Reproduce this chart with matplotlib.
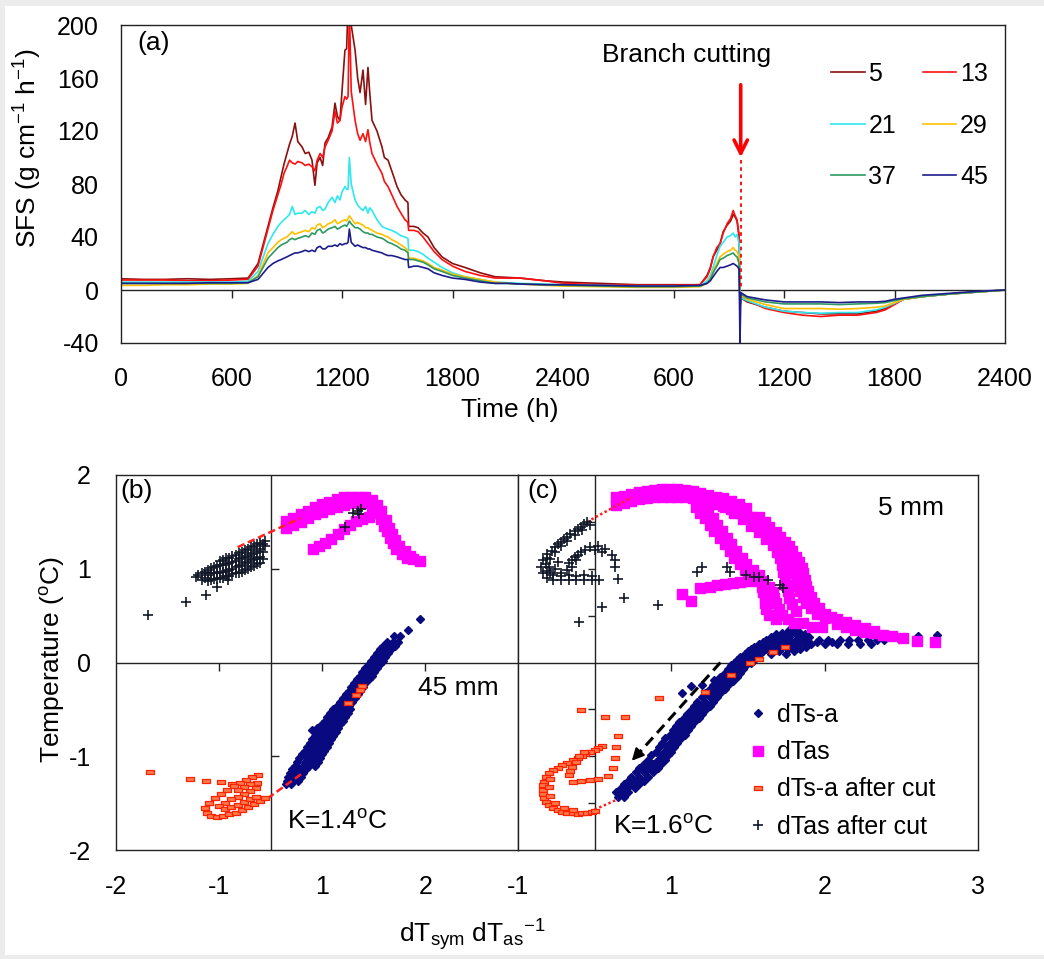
import matplotlib
matplotlib.use("Agg")
import numpy as np
import matplotlib.pyplot as plt
from matplotlib.lines import Line2D
from matplotlib.patches import Rectangle
from matplotlib.markers import TICKDOWN, TICKLEFT, TICKRIGHT

plt.rcParams["font.family"] = ["Liberation Sans", "DejaVu Sans"]
plt.rcParams["mathtext.fontset"] = "custom"
plt.rcParams["mathtext.rm"] = "Liberation Sans"
plt.rcParams["mathtext.it"] = "Liberation Sans:italic"
plt.rcParams["mathtext.default"] = "regular"

W, H = 1044, 959

# ---------------------------------------------------------------------------
# (a) sap flux density at six depths, two measurement periods glued end to end
# ---------------------------------------------------------------------------
time_h = [0, 120, 240, 360, 480, 600, 690,
          744, 798, 825, 852, 870, 885, 901, 915, 930, 945,
          960, 983, 1000, 1020, 1037, 1053, 1065, 1081, 1095, 1108,
          1125, 1146, 1162, 1175, 1189, 1200, 1216, 1225, 1233, 1240,
          1250, 1271, 1285, 1298, 1314, 1328, 1341, 1350, 1363, 1390,
          1417, 1430, 1450, 1470, 1499, 1520, 1542, 1558, 1562, 1590,
          1613, 1640, 1667, 1700, 1743, 1800, 1868, 1950, 2031, 2100,
          2167, 2300, 2400, 2600, 2800, 3000, 3144, 3182, 3200, 3215,
          3235, 3253, 3270, 3291, 3310, 3324, 3335, 3345, 3356, 3361,
          3366, 3400, 3500, 3600, 3700, 3800, 3900, 4000, 4100, 4150,
          4200, 4250, 4350, 4500, 4650, 4800]

sfs_5 = [8.5, 8, 8, 8.5, 8, 8.5, 9,
         20, 48, 62, 75, 86, 95, 103, 110, 116, 126,
         112, 108, 103, 104, 98, 79, 96, 100, 94, 111,
         115, 123, 141, 131, 128, 150, 181, 182, 215, 215,
         200, 181, 160, 149, 166, 140, 168, 150, 128, 120,
         108, 100, 98, 90, 78, 72, 68, 66, 48, 48,
         47, 43, 40, 32, 25, 20, 17, 13, 10, 9.5,
         9, 7, 6, 5, 4, 4, 4, 11, 17, 25,
         30, 35, 44, 49, 52, 57, 55, 52, 40, -14,
         -6, -9, -13, -16, -17, -18, -18, -18, -16, -14,
         -10, -7, -5, -3, -1.5, 0]
sfs_13 = [7.5, 7.5, 7.5, 7, 7, 7.5, 8,
          18, 46, 60, 72, 80, 88, 93, 98, 96, 95,
          97, 96, 94, 95, 93, 90, 98, 103, 100, 108,
          113, 120, 135, 126, 128, 138, 146, 144, 146, 215,
          150, 128, 118, 113, 118, 112, 121, 112, 103, 95,
          88, 82, 78, 72, 63, 58, 53, 51, 45, 45,
          44, 40, 35, 29, 23, 18, 14, 11, 9, 9,
          9, 7, 5, 4, 3.5, 3.5, 4, 10, 16, 25,
          32, 35, 43, 50, 54, 60, 56, 53, 42, -12,
          -4, -8, -14, -17, -19, -20, -19, -19, -17, -15,
          -11, -7, -5, -3, -1.5, 0]
sfs_21 = [6, 6, 6, 6, 6, 6, 6.5,
          14, 35, 42, 48, 51, 53, 55, 57, 63, 57,
          58, 58, 60, 57, 59, 58, 62, 63, 60, 61,
          66, 70, 66, 71, 68, 74, 78, 76, 76, 100,
          80, 68, 64, 62, 60, 63, 58, 62, 60, 53,
          48, 47, 46, 45, 43, 41, 40, 39, 30, 30,
          29, 27, 24, 21, 17, 13, 10, 8, 6, 5.5,
          5, 4.5, 4, 3.5, 3, 3, 3, 7, 11, 17,
          26, 33, 36, 40, 41, 43, 40, 42, 35, -8,
          -6, -8, -13, -16, -17, -17.5, -17, -17, -15, -13,
          -10, -7, -5, -3, -1.5, 0]
sfs_29 = [3.5, 3.5, 4, 4, 4.5, 4.5, 5,
          11, 28, 32, 36, 38, 39, 40, 42, 44, 42,
          43, 44, 45, 44, 47, 46, 49, 50, 47, 48,
          50, 51, 53, 50, 51, 52, 53, 52, 54, 56,
          54, 50, 51, 50, 49, 47, 47, 46, 45, 43,
          42, 41, 40, 38, 36, 34, 32, 30, 24, 24,
          23, 22, 20, 17, 15, 12, 10, 8, 6, 5,
          4.5, 3.5, 3, 2.5, 2, 2, 2.5, 5, 9, 14,
          20, 25, 27, 29, 30, 32, 30, 29, 25, -8,
          -4, -7, -11, -14, -14, -14, -14.5, -14, -13, -12,
          -9.5, -7, -5, -3, -1.5, 0]
sfs_37 = [5, 5, 5, 5, 5, 5, 5.5,
          10, 24, 28, 32, 34, 35, 36, 38, 39, 38,
          39, 40, 41, 40, 43, 42, 45, 46, 43, 44,
          46, 47, 48, 46, 47, 48, 49, 48, 50, 52,
          50, 47, 47, 46, 44, 43, 43, 42, 42, 40,
          39, 38, 36, 35, 33, 31, 30, 28, 23, 23,
          22, 21, 19, 16, 14, 11, 9, 7, 5, 5,
          4.5, 4, 3.5, 3, 2.5, 2.5, 3, 5, 8, 13,
          18, 23, 24, 26, 27, 28, 26, 25, 20, -10,
          -3, -6, -9, -10.5, -10.5, -10.5, -11, -10.5, -10, -9.5,
          -8, -6.5, -5, -3, -1.5, 0]
sfs_45 = [5, 5, 5, 5, 5.5, 5.5, 5.5,
          8, 17, 20, 22, 23, 24, 25, 26, 27, 28,
          28, 29, 30, 29, 30, 29, 32, 33, 31, 31,
          33, 33, 34, 33, 35, 34, 35, 35, 36, 46,
          36, 33, 34, 33, 32, 32, 31, 31, 30, 29,
          28, 27, 26, 26, 25, 24, 23, 23, 17, 18,
          18, 17, 16, 13, 11, 9, 8, 6, 5, 5,
          4.5, 4, 4, 3.5, 3, 3, 3.5, 5, 7, 10,
          14, 17, 17, 18, 19, 20, 19, 18, 16, -40,
          -2, -5, -7.5, -9, -9, -9, -9.5, -9, -9, -8.5,
          -7, -6, -4, -2.5, -1, 0]

depths = ["5", "13", "21", "29", "37", "45"]
depth_colors = ["#8B1010", "#FF1010", "#2EE8F0", "#FFC000", "#2E9960", "#1C1C8C"]

time_ticks = [0, 600, 1200, 1800, 2400, 3000, 3600, 4200, 4800]
time_labels = ["0", "600", "1200", "1800", "2400", "600", "1200", "1800", "2400"]
cut_time = 3365
cut_arrow = [157, 98]      # SFS values spanned by the red arrow

# ---------------------------------------------------------------------------
# (b) 45 mm and (c) 5 mm: temperature differences vs dTsym/dTas
# dense clouds are stored as rows (y, [x...]) or columns (x, [y...])
# ---------------------------------------------------------------------------
b_dtsa_rows = [
    (-1.30, [0.15, 0.20]), (-1.26, [0.16, 0.22, 0.27]),
    (-1.22, [0.17, 0.24, 0.29]), (-1.18, [0.19, 0.26, 0.31]),
    (-1.14, [0.21, 0.28, 0.34]), (-1.10, [0.24, 0.31, 0.37, 0.43]),
    (-1.06, [0.26, 0.33, 0.40, 0.46]), (-1.02, [0.28, 0.35, 0.42, 0.48]),
    (-0.98, [0.30, 0.37, 0.44, 0.50]), (-0.94, [0.33, 0.40, 0.46, 0.52]),
    (-0.90, [0.35, 0.42, 0.49, 0.55]), (-0.86, [0.38, 0.45, 0.51, 0.57]),
    (-0.82, [0.40, 0.47, 0.54, 0.59]), (-0.78, [0.43, 0.50, 0.56, 0.61]),
    (-0.74, [0.46, 0.52, 0.58, 0.63]), (-0.70, [0.48, 0.55, 0.60, 0.65]),
    (-0.66, [0.50, 0.57, 0.63, 0.67]), (-0.62, [0.53, 0.60, 0.65, 0.70]),
    (-0.58, [0.55, 0.62, 0.68, 0.72]), (-0.54, [0.58, 0.65, 0.70, 0.75]),
    (-0.50, [0.61, 0.67, 0.73, 0.77]), (-0.46, [0.64, 0.70, 0.76]),
    (-0.42, [0.67, 0.73, 0.79]), (-0.38, [0.70, 0.76, 0.82]),
    (-0.34, [0.73, 0.79, 0.85]), (-0.30, [0.76, 0.82, 0.87]),
    (-0.26, [0.78, 0.84, 0.90]), (-0.22, [0.81, 0.87, 0.92]),
    (-0.18, [0.84, 0.90, 0.95]), (-0.14, [0.87, 0.92, 0.98]),
    (-0.10, [0.89, 0.95, 1.00]), (-0.06, [0.92, 0.98, 1.03]),
    (-0.02, [0.95, 1.01, 1.06]), (0.02, [0.97, 1.03, 1.09]),
    (0.06, [1.00, 1.06, 1.11]), (0.10, [1.03, 1.09, 1.14]),
    (0.14, [1.06, 1.12, 1.17]), (0.18, [1.09, 1.15, 1.21]),
    (0.22, [1.13, 1.19, 1.24]), (0.28, [1.20, 1.26]),
    (0.35, [1.33]), (0.46, [1.45]),
    (-0.72, [0.40]), (-0.70, [0.45]),
]
b_dtas = [
    (0.15, 1.44), (0.15, 1.51), (0.22, 1.47), (0.22, 1.54), (0.29, 1.50), (0.29, 1.58),
    (0.36, 1.54), (0.36, 1.62), (0.43, 1.58), (0.43, 1.66), (0.50, 1.61), (0.50, 1.69),
    (0.57, 1.64), (0.57, 1.71), (0.64, 1.66), (0.64, 1.74), (0.71, 1.68), (0.71, 1.76),
    (0.78, 1.70), (0.78, 1.77), (0.85, 1.71), (0.85, 1.77), (0.92, 1.70), (0.92, 1.76),
    (0.98, 1.66), (0.98, 1.73), (1.03, 1.60), (1.03, 1.68), (1.07, 1.53), (1.07, 1.62),
    (1.10, 1.46), (1.12, 1.52), (1.13, 1.40), (1.15, 1.44), (1.16, 1.33), (1.18, 1.37),
    (1.19, 1.27), (1.21, 1.31), (1.22, 1.21), (1.25, 1.24), (1.27, 1.16), (1.30, 1.19),
    (1.32, 1.12), (1.35, 1.14), (1.38, 1.10), (1.45, 1.08),
    (0.41, 1.21), (0.47, 1.24), (0.53, 1.28), (0.59, 1.32), (0.65, 1.37),
    (0.71, 1.42), (0.77, 1.47), (0.83, 1.51), (0.89, 1.53), (0.95, 1.55),
]
b_dtsa_cut = [
    (-1.17, -1.17), (-0.78, -1.24), (-0.63, -1.26), (-0.48, -1.27), (-0.37, -1.30),
    (-0.12, -1.20), (-0.18, -1.22), (-0.24, -1.25), (-0.30, -1.28),
    (-0.36, -1.32), (-0.42, -1.36), (-0.48, -1.40), (-0.54, -1.45), (-0.60, -1.50),
    (-0.64, -1.55), (-0.62, -1.60), (-0.58, -1.64),
    (-0.52, -1.65), (-0.46, -1.64), (-0.40, -1.62), (-0.34, -1.60), (-0.28, -1.57),
    (-0.22, -1.54), (-0.16, -1.51), (-0.10, -1.48), (-0.05, -1.45),
    (-0.13, -1.28), (-0.14, -1.34), (-0.20, -1.37), (-0.26, -1.40), (-0.32, -1.43),
    (-0.38, -1.46), (-0.44, -1.50), (-0.50, -1.53), (-0.44, -1.56), (-0.38, -1.54),
    (-0.32, -1.52), (-0.26, -1.49), (-0.20, -1.46), (-0.14, -1.43),
    (-0.20, -1.30), (-0.26, -1.33), (-0.32, -1.36),
    (0.75, -0.43), (0.83, -0.35), (0.87, -0.29), (0.89, -0.25),
]
b_dtas_cut_cols = [
    (-0.72, [0.91]), (-0.70, [0.93]), (-0.67, [0.88, 0.95]), (-0.64, [0.90, 0.97]),
    (-0.61, [0.87, 0.93, 0.99]), (-0.58, [0.88, 0.95, 1.01]),
    (-0.55, [0.89, 0.96, 1.02]), (-0.52, [0.89, 0.96, 1.03]),
    (-0.49, [0.90, 0.97, 1.04, 1.08]), (-0.46, [0.90, 0.97, 1.04, 1.09]),
    (-0.43, [0.92, 0.98, 1.05, 1.11]), (-0.40, [0.92, 0.99, 1.06, 1.12]),
    (-0.37, [0.94, 1.00, 1.07, 1.14]), (-0.34, [0.95, 1.02, 1.08, 1.15]),
    (-0.31, [0.96, 1.03, 1.10, 1.17]), (-0.28, [0.97, 1.04, 1.11, 1.18]),
    (-0.25, [0.99, 1.06, 1.13, 1.20]), (-0.22, [1.00, 1.07, 1.14, 1.21]),
    (-0.19, [1.02, 1.09, 1.16, 1.23]), (-0.16, [1.03, 1.10, 1.17, 1.24]),
    (-0.13, [1.05, 1.12, 1.19, 1.26]), (-0.10, [1.06, 1.13, 1.21, 1.28]),
    (-0.07, [1.10, 1.18, 1.26]), (-0.05, [1.24, 1.30]),
    (-1.19, [0.51]), (-0.82, [0.65]), (-0.63, [0.72]), (-0.52, [0.81]), (-0.41, [0.88]),
    (0.72, [1.45]), (0.80, [1.60]), (0.85, [1.62]), (0.88, [1.64]), (0.86, [1.58]),
]
b_join_top = [(-0.32, 1.23), (0.29, 1.54)]
b_join_bottom = [(-0.03, -1.45), (0.31, -1.18)]

c_dtsa_rows = [
    (-1.43, [0.15, 0.19]), (-1.38, [0.14, 0.18, 0.22]), (-1.34, [0.17, 0.21, 0.26]),
    (-1.30, [0.19, 0.24, 0.29]), (-1.26, [0.22, 0.27, 0.32]),
    (-1.22, [0.24, 0.29, 0.35]), (-1.17, [0.27, 0.32, 0.38]),
    (-1.13, [0.29, 0.35, 0.41]), (-1.08, [0.32, 0.38, 0.43]),
    (-1.04, [0.35, 0.41, 0.46]), (-0.99, [0.37, 0.43, 0.48]),
    (-0.95, [0.40, 0.45, 0.50]), (-0.90, [0.42, 0.47, 0.52]),
    (-0.86, [0.44, 0.49, 0.54]), (-0.81, [0.46, 0.51, 0.56]),
    (-0.77, [0.49, 0.54, 0.59]), (-0.72, [0.51, 0.56, 0.61]),
    (-0.68, [0.53, 0.58, 0.63]), (-0.63, [0.55, 0.60, 0.65]),
    (-0.59, [0.58, 0.63, 0.68]), (-0.55, [0.60, 0.65, 0.70]),
    (-0.51, [0.63, 0.68, 0.72]), (-0.46, [0.65, 0.70, 0.75]),
    (-0.42, [0.67, 0.72, 0.77]), (-0.37, [0.70, 0.75, 0.80]),
    (-0.33, [0.72, 0.77, 0.82]), (-0.28, [0.75, 0.80, 0.85]),
    (-0.24, [0.77, 0.82, 0.87]), (-0.20, [0.80, 0.85, 0.90]),
    (-0.15, [0.82, 0.87, 0.93]), (-0.11, [0.85, 0.90, 0.95]),
    (-0.07, [0.87, 0.92, 0.97]), (-0.03, [0.89, 0.94, 0.99]),
    (0.00, [0.91, 0.96, 1.02]), (0.03, [0.93, 0.98, 1.04]),
    (0.06, [0.95, 1.00, 1.06]), (0.09, [0.98, 1.03, 1.08, 1.15, 1.25]),
    (0.12, [1.00, 1.05, 1.10, 1.20, 1.30]),
    (0.145, [1.02, 1.07, 1.12, 1.18, 1.26, 1.34]),
    (0.17, [1.04, 1.09, 1.15, 1.22, 1.30, 1.38]),
    (0.195, [1.07, 1.12, 1.18, 1.25, 1.33, 1.41, 1.50, 1.58, 1.65, 1.73, 1.80]),
    (0.22, [1.10, 1.15, 1.21, 1.28, 1.36, 1.45, 1.55]),
    (0.24, [1.60, 1.66, 1.72, 1.78, 1.84, 1.89]),
    (0.245, [1.12, 1.18, 1.24, 1.31, 1.38, 1.46, 1.52]),
    (0.27, [1.15, 1.21, 1.27, 1.33, 1.40]),
    (0.30, [1.18, 1.25, 1.31, 1.37]),
    (0.32, [1.22, 1.28, 1.34]), (0.35, [1.27, 1.31]),
    (0.26, [1.98]), (0.28, [2.11]), (0.29, [2.23]),
    (-0.33, [0.57]), (-0.25, [0.63]), (-0.24, [0.70]), (-0.19, [0.78]),
]
c_dtas = [
    # outer arc, top
    (0.14, 1.68), (0.14, 1.76), (0.19, 1.70), (0.19, 1.78), (0.24, 1.72), (0.24, 1.80),
    (0.29, 1.74), (0.29, 1.82), (0.34, 1.75), (0.34, 1.83), (0.39, 1.76), (0.39, 1.84),
    (0.44, 1.77), (0.44, 1.85), (0.49, 1.77), (0.49, 1.85), (0.54, 1.77), (0.54, 1.85),
    (0.59, 1.76), (0.59, 1.84), (0.64, 1.75), (0.64, 1.83), (0.69, 1.73), (0.69, 1.81),
    (0.74, 1.71), (0.74, 1.79), (0.79, 1.69), (0.79, 1.77), (0.84, 1.67), (0.84, 1.75),
    (0.89, 1.64), (0.89, 1.72), (0.94, 1.61), (0.94, 1.69), (0.99, 1.57), (0.99, 1.65),
    # outer arc, falling side
    (1.02, 1.55), (1.07, 1.55), (1.05, 1.50), (1.11, 1.50), (1.08, 1.45), (1.14, 1.45),
    (1.12, 1.39), (1.18, 1.39), (1.15, 1.34), (1.21, 1.34), (1.18, 1.29), (1.24, 1.29),
    (1.21, 1.24), (1.27, 1.24), (1.24, 1.19), (1.29, 1.19), (1.26, 1.13), (1.31, 1.13),
    (1.28, 1.07), (1.33, 1.07), (1.30, 1.01), (1.35, 1.01), (1.31, 0.95), (1.36, 0.95),
    (1.32, 0.88), (1.37, 0.88), (1.33, 0.82), (1.38, 0.82), (1.34, 0.76), (1.39, 0.76),
    (1.36, 0.70), (1.41, 0.70), (1.38, 0.64), (1.43, 0.64), (1.41, 0.58), (1.46, 0.58),
    (1.45, 0.52), (1.50, 0.52), (1.50, 0.47), (1.54, 0.49),
    # tail
    (1.58, 0.41), (1.58, 0.46), (1.64, 0.38), (1.64, 0.43), (1.70, 0.35), (1.70, 0.40),
    (1.76, 0.33), (1.76, 0.37), (1.82, 0.31), (1.82, 0.34), (1.88, 0.29), (1.94, 0.28),
    (2.01, 0.26), (2.10, 0.23), (2.22, 0.22),
    # middle arc
    (0.85, 1.66), (0.91, 1.59), (0.97, 1.53), (1.02, 1.46), (1.07, 1.39), (1.12, 1.32),
    (1.16, 1.25), (1.19, 1.18), (1.21, 1.11), (1.22, 1.04), (1.23, 0.97), (1.24, 0.90),
    (1.25, 0.83), (1.26, 0.76), (1.27, 0.69), (1.29, 0.62), (1.31, 0.55),
    # inner arc
    (0.66, 1.66), (0.70, 1.66), (0.69, 1.60), (0.74, 1.60), (0.72, 1.54), (0.77, 1.54),
    (0.75, 1.47), (0.80, 1.47), (0.78, 1.40), (0.83, 1.40), (0.82, 1.33), (0.86, 1.33),
    (0.85, 1.26), (0.89, 1.26), (0.88, 1.19), (0.92, 1.19), (0.91, 1.12), (0.96, 1.12),
    (0.95, 1.05), (0.99, 1.05), (0.98, 0.99), (1.03, 0.99), (1.02, 0.93), (1.07, 0.93),
    (1.06, 0.87), (1.10, 0.87), (1.09, 0.81), (1.14, 0.81), (1.10, 0.75), (1.16, 0.75),
    (1.11, 0.69), (1.17, 0.69), (1.11, 0.63), (1.18, 0.63), (1.12, 0.57), (1.20, 0.57),
    (1.14, 0.51), (1.22, 0.51), (1.18, 0.46), (1.26, 0.46), (1.30, 0.42), (1.36, 0.42),
    (1.42, 0.38), (1.48, 0.38),
    # lower row
    (0.57, 0.73), (0.63, 0.66), (0.69, 0.79), (0.75, 0.81), (0.80, 0.83), (0.85, 0.84),
    (0.90, 0.85), (0.95, 0.86), (1.00, 0.87), (1.05, 0.88),
]
c_dtsa_cut = [
    (-0.09, -0.51), (0.07, -0.58), (0.20, -0.58), (0.42, -0.38),
    (0.15, -0.78), (0.14, -0.90), (0.13, -1.02),
    # outer loop
    (0.05, -0.89), (0.02, -0.91), (0.00, -0.93), (-0.03, -0.95), (-0.06, -0.98),
    (-0.08, -1.00), (-0.11, -1.02), (-0.14, -1.04), (-0.18, -1.07), (-0.21, -1.09),
    (-0.24, -1.12), (-0.27, -1.15), (-0.30, -1.18), (-0.32, -1.22), (-0.33, -1.27),
    (-0.34, -1.31), (-0.34, -1.36), (-0.34, -1.40), (-0.33, -1.45), (-0.32, -1.49),
    (-0.30, -1.52), (-0.27, -1.55), (-0.24, -1.57), (-0.21, -1.59), (-0.18, -1.60),
    (-0.14, -1.61), (-0.11, -1.62), (-0.08, -1.61), (-0.05, -1.60), (-0.02, -1.59),
    (0.00, -1.58),
    (-0.29, -1.24), (-0.30, -1.33), (-0.29, -1.42), (-0.26, -1.50), (-0.20, -1.55),
    (-0.14, -1.57),
    # inner hook
    (-0.07, -0.95), (-0.10, -1.00), (-0.12, -1.06), (-0.15, -1.11), (-0.16, -1.16),
    (-0.17, -1.20), (-0.14, -1.27), (-0.09, -1.26), (-0.03, -1.25), (0.02, -1.24),
    (0.12, -1.13), (0.09, -1.21),
    # on the dTs-a band
    (0.72, -0.31), (0.89, -0.13), (1.01, -0.01), (1.07, 0.04), (1.16, 0.11), (1.24, 0.17),
]
c_dtas_cut = [
    (-0.05, 1.50), (-0.09, 1.45), (-0.13, 1.40), (-0.18, 1.34), (-0.22, 1.29),
    (-0.26, 1.23), (-0.31, 1.16), (-0.34, 1.09), (-0.35, 1.02), (-0.34, 0.95),
    (-0.31, 0.90),
    (-0.07, 1.48), (-0.11, 1.42), (-0.16, 1.37), (-0.20, 1.32), (-0.24, 1.26),
    (-0.28, 1.19), (-0.31, 1.12), (-0.32, 1.05), (-0.31, 0.98),
    (-0.03, 1.47), (-0.08, 1.41), (-0.13, 1.36), (-0.18, 1.30), (-0.22, 1.24),
    (-0.26, 1.18), (-0.29, 1.10), (-0.30, 1.02), (-0.29, 0.95),
    (-0.27, 0.88), (-0.22, 0.88), (-0.17, 0.88), (-0.12, 0.88), (-0.07, 0.88),
    (-0.02, 0.88), (0.03, 0.88),
    (-0.27, 0.93), (-0.22, 0.92), (-0.17, 0.93), (-0.12, 0.92), (-0.07, 0.93),
    (-0.02, 0.92),
    (-0.18, 0.99), (-0.17, 1.06), (-0.13, 1.13), (-0.09, 1.18), (-0.03, 1.23),
    (0.02, 1.24), (0.07, 1.21), (0.11, 1.15), (0.13, 1.09), (0.13, 1.02),
    (-0.15, 1.09), (-0.11, 1.15), (-0.06, 1.20), (0.00, 1.20), (0.05, 1.18),
    (-0.26, 1.00), (-0.24, 1.07), (-0.22, 0.96), (-0.15, 1.02), (-0.12, 1.09),
    (0.15, 0.89), (0.19, 0.69), (0.05, 0.59), (-0.10, 0.43), (0.41, 0.61),
    (0.67, 0.97), (0.70, 1.02), (0.86, 1.02), (0.88, 0.97), (0.99, 0.93),
    (1.04, 0.91), (1.07, 0.91), (1.13, 0.88), (1.21, 0.83), (1.23, 0.79),
]
c_join_top = [(-0.05, 1.50), (0.24, 1.76)]
c_join_bottom = [(-0.03, -1.59), (0.15, -1.46)]
c_drift_arrow = [(0.82, 0.00), (0.23, -1.07)]

# Excel-style dash marker for the after-cut dTs-a points
DASH = [(-1, -0.42), (1, -0.42), (1, 0.42), (-1, 0.42), (-1, -0.42)]

STYLE = {
    "dtsa": dict(marker="D", ms=4.3, color="#0A0A80", mec="#0A0A80"),
    "dtas": dict(marker="s", ms=6.8, color="#FF00FF", mec="#FF00FF"),
    "dtsa_cut": dict(marker=DASH, ms=6.0, color="#FF7A4A", mec="#FF2200", mew=0.9),
    "dtas_cut": dict(marker="+", ms=7.0, color="#111827", mew=1.2),
}


def _rows(rows):
    """Flatten (y, [x...]) rows into (x, y) pairs."""
    return [(x, y) for y, xs in rows for x in xs]


def _cols(cols):
    """Flatten (x, [y...]) columns into (x, y) pairs."""
    return [(x, y) for x, ys in cols for y in ys]


def _px(left, top, right, bottom):
    """Figure-fraction rectangle from pixel edges (origin top left)."""
    return [left / W, 1 - bottom / H, (right - left) / W, (bottom - top) / H]


def _frame(ax):
    for sp in ax.spines.values():
        sp.set_color("#222222")
        sp.set_linewidth(1.0)


def _plot_sfs(fig):
    ax = fig.add_axes(_px(121, 25, 1005, 343))
    _frame(ax)
    series = [sfs_5, sfs_13, sfs_21, sfs_29, sfs_37, sfs_45]
    handles = []
    for name, vals, color in zip(depths, series, depth_colors):
        ln, = ax.plot(time_h, vals, color=color, lw=1.2, label=name)
        handles.append(ln)

    ax.axhline(0, color="#222222", lw=1.0, zorder=1)
    ax.plot(time_ticks[1:-1], [0] * (len(time_ticks) - 2), ls="none",
            marker=TICKDOWN, ms=6, mew=1.0, color="#222222")

    ax.set_xlim(0, 4800)
    ax.set_ylim(-40, 200)
    ax.set_xticks(time_ticks)
    ax.set_xticklabels(time_labels)
    ax.set_yticks(range(-40, 201, 40))
    ax.set_yticklabels([str(v) for v in range(-40, 201, 40)])
    ax.tick_params(axis="both", length=0, labelsize=18)
    ax.tick_params(axis="x", pad=17)
    ax.tick_params(axis="y", pad=16)
    ax.set_ylabel("SFS (g cm$^{-1}$ h$^{-1}$)", fontsize=19, va="center")
    ax.yaxis.set_label_coords(-0.105, 0.613)

    # branch cutting marker
    ax.annotate("", xy=(cut_time, cut_arrow[1]), xytext=(cut_time, cut_arrow[0]),
                arrowprops=dict(arrowstyle="->", color="red", lw=2.6,
                                mutation_scale=24))
    ax.plot([cut_time, cut_time], [cut_arrow[1], 0], color="red", lw=1.3,
            ls=(0, (2, 2)))
    ax.text(0.640, 0.906, "Branch cutting", transform=ax.transAxes,
            ha="center", va="center", fontsize=19)
    ax.text(0.019, 0.943, "(a)", transform=ax.transAxes, ha="left",
            va="center", fontsize=19)

    order = [0, 2, 4, 1, 3, 5]
    ax.legend([handles[i] for i in order], [depths[i] for i in order], ncol=2,
              loc="upper left", bbox_to_anchor=(0.803, 0.883), frameon=False,
              fontsize=18, handlelength=1.35, handletextpad=0.15,
              columnspacing=1.06, labelspacing=1.1, borderpad=0, borderaxespad=0)
    fig.text(510 / W, 1 - 410 / H, "Time (h)", ha="center", va="center",
             fontsize=19)


def _scatter(ax, pts, key, **kw):
    x, y = np.array(pts).T
    return ax.plot(x, y, ls="none", **STYLE[key], **kw)[0]


def _join(ax, pts, ls):
    x, y = np.array(pts).T
    ax.plot(x, y, color="#FF2020", lw=1.8, ls=ls, zorder=4)


def _ratio_panel(ax, dtsa, dtas, dtsa_cut, dtas_cut, join_top, join_bottom,
                 join_ls):
    _frame(ax)
    ax.set_ylim(-2, 2)
    ax.axhline(0, color="#222222", lw=1.0, zorder=1)
    ax.axvline(0, color="#222222", lw=1.0, zorder=1)
    _scatter(ax, dtsa, "dtsa", zorder=2)
    _scatter(ax, dtas, "dtas", zorder=3)
    _scatter(ax, dtsa_cut, "dtsa_cut", zorder=5)
    _scatter(ax, dtas_cut, "dtas_cut", zorder=6)
    _join(ax, join_top, join_ls)
    _join(ax, join_bottom, join_ls)
    ax.tick_params(axis="both", length=0, labelsize=18)
    ax.tick_params(axis="x", pad=18)
    ax.tick_params(axis="y", pad=18)


def _plot_ratio(fig):
    axb = fig.add_axes(_px(116, 475, 518, 850))
    axc = fig.add_axes(_px(518, 475, 978, 850))

    # (b) 45 mm
    _ratio_panel(axb, _rows(b_dtsa_rows), b_dtas, b_dtsa_cut,
                 _cols(b_dtas_cut_cols), b_join_top, b_join_bottom,
                 (0, (3, 1.5)))
    axb.set_xlim(-1.5, 2.4)
    axb.set_xticks([-1.5, -0.5, 0.5, 1.5])
    axb.set_xticklabels(["-2", "-1", "1", "2"])
    axb.set_yticks([-2, -1, 0, 1, 2])
    axb.set_yticklabels(["-2", "-1", "0", "1", "2"])
    axb.plot([-0.5, 0.5, 1.5], [0, 0, 0], ls="none", marker=TICKDOWN, ms=5.5,
             mew=1.0, color="#222222")
    axb.plot([0, 0], [-1, 1], ls="none", marker=TICKRIGHT, ms=5.5, mew=1.0,
             color="#222222")
    axb.set_ylabel("Temperature ($^o$C)", fontsize=19, va="center")
    axb.yaxis.set_label_coords(-0.159, 0.507)
    axb.text(0.012, 0.958, "(b)", transform=axb.transAxes, ha="left",
             va="center", fontsize=19)
    axb.text(0.851, 0.432, "45 mm", transform=axb.transAxes, ha="center",
             va="center", fontsize=19)
    axb.text(0.425, 0.075, "K=1.4$^o$C", transform=axb.transAxes, ha="left",
             va="center", fontsize=19)

    # (c) 5 mm
    _ratio_panel(axc, _rows(c_dtsa_rows), c_dtas, c_dtsa_cut, c_dtas_cut,
                 c_join_top, c_join_bottom, (0, (1, 1)))
    axc.set_xlim(-0.5, 2.5)
    axc.set_xticks([-0.5, 0.5, 1.5, 2.5])
    axc.set_xticklabels(["-1", "1", "2", "3"])
    axc.set_yticks([])
    axc.plot([0.5, 1.5], [0, 0], ls="none", marker=TICKDOWN, ms=5.5, mew=1.0,
             color="#222222")
    axc.plot([0] * 6, [-1.5, -1, -0.5, 0.5, 1, 1.5], ls="none",
             marker=TICKLEFT, ms=5, mew=1.0, color="#222222")

    (x0, y0), (x1, y1) = c_drift_arrow
    axc.plot([x0, x1 + 0.04], [y0, y1 + 0.07], color="black", lw=2.2,
             ls=(0, (3.5, 2)), zorder=7)
    axc.annotate("", xy=(x1, y1), xytext=(x1 + 0.05, y1 + 0.09),
                 arrowprops=dict(arrowstyle="-|>", color="black", lw=1.5,
                                 mutation_scale=18), zorder=7)

    axc.text(0.02, 0.958, "(c)", transform=axc.transAxes, ha="left",
             va="center", fontsize=19)
    axc.text(0.854, 0.912, "5 mm", transform=axc.transAxes, ha="center",
             va="center", fontsize=19)
    axc.text(0.207, 0.061, "K=1.6$^o$C", transform=axc.transAxes, ha="left",
             va="center", fontsize=19)

    labels = ["dTs-a", "dTas", "dTs-a after cut", "dTas after cut"]
    handles = [Line2D([], [], ls="none", **STYLE[k])
               for k in ["dtsa", "dtas", "dtsa_cut", "dtas_cut"]]
    axc.legend(handles, labels, loc="upper left", bbox_to_anchor=(0.50, 0.392),
               frameon=False, fontsize=18, handlelength=0.8, handletextpad=0.35,
               labelspacing=0.53, borderpad=0, borderaxespad=0)

    fig.text(472 / W, 1 - 935 / H, "dT$_{sym}$ dT$_{as}$$^{-1}$", ha="center",
             va="center", fontsize=19)


def main():
    fig = plt.figure(figsize=(W / 100, H / 100), dpi=100)
    fig.patch.set_facecolor("#ececec")
    fig.add_artist(Rectangle((5 / W, 4 / H), 1039 / W, 949 / H,
                             transform=fig.transFigure, facecolor="white",
                             edgecolor="none", zorder=-10))
    _plot_sfs(fig)
    _plot_ratio(fig)
    fig.savefig("out.png", dpi=100, facecolor=fig.get_facecolor())
    plt.close(fig)


if __name__ == "__main__":
    main()
